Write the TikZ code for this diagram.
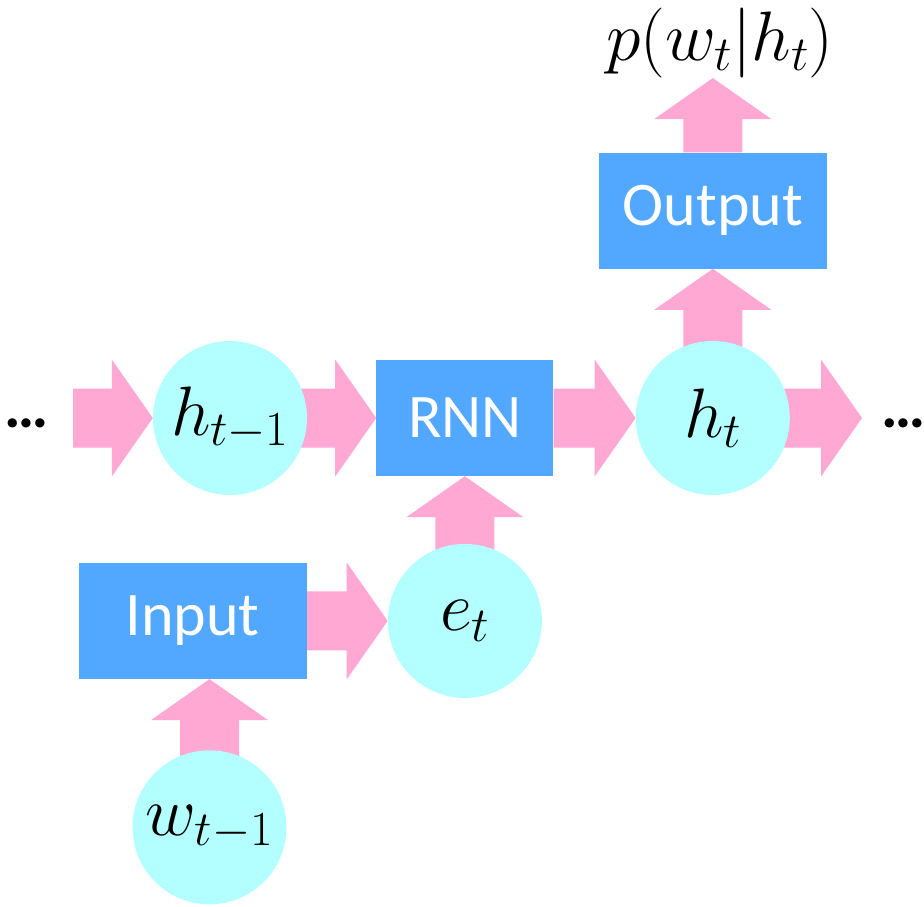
\RequirePackage{fix-cm}
\documentclass[tikz,border=0pt]{standalone}
\usepackage{fontspec}
\newfontfamily\boxfont{Carlito}
\usetikzlibrary{positioning, calc, backgrounds}

\definecolor{arrowpink}{RGB}{255,168,212}
\definecolor{boxblue}{RGB}{82,167,255}
\definecolor{statecyan}{RGB}{179,255,255}

\newcommand{\bigtext}{\fontsize{62}{70}\selectfont}
\newcommand{\bigmath}{\fontsize{70}{78}\selectfont}

\newcommand{\fatarrow}[2]{%
    \path ($(#2)!41pt!(#1)$) coordinate (hb);
    \fill[arrowpink] ($(#1)!29.5pt!90:(#2)$) -- ($(hb)!29.5pt!90:(#2)$) -- ($(hb)!58.5pt!90:(#2)$) -- (#2)
        -- ($(hb)!58.5pt!-90:(#2)$) -- ($(hb)!29.5pt!-90:(#2)$) -- ($(#1)!29.5pt!-90:(#2)$) -- cycle;
}

\begin{document}
\begin{tikzpicture}[
        x=1pt, y=-1pt,
        state/.style={circle, fill=statecyan, minimum size=154pt, inner sep=0pt, font=\bigmath},
        block/.style={rectangle, fill=boxblue, text=white, minimum width=228pt, minimum height=116pt, inner sep=0pt, font=\boxfont\bigtext}
    ]
    \useasboundingbox (0,0) rectangle (924,906);

    \node[state] (h1) at (230,418) {$h_{t-1}$};
    \node[block, minimum width=177pt, right=69pt of h1] (rnn) {RNN};
    \node[state, right=82pt of rnn] (ht) {$h_t$};
    \node[block, above=72pt of ht] (output) {Output};
    \node[state, below=67.5pt of rnn] (et) {$e_t$};
    \node[block, left=81pt of et] (input) {Input};
    \node[state, below=71pt of input, xshift=17pt] (w1) {$w_{t-1}$};

    \node[font=\bigmath, anchor=south, inner sep=0pt] (prob) at (720,78) {$p(w_t|h_t)$};
    \node[font=\boxfont\bigtext\bfseries, anchor=base, inner sep=0pt] (ldots) at (27,427) {\ldots};
    \node[font=\boxfont\bigtext\bfseries, anchor=base, inner sep=0pt] (rdots) at (904,427) {\ldots};
    \coordinate (lin) at (73,418);
    \coordinate (rout) at (862,418);

    \begin{scope}[on background layer]
        \fatarrow{lin}{h1.west}
        \fatarrow{h1.center}{rnn.west}
        \fatarrow{rnn.east}{ht.west}
        \fatarrow{ht.center}{rout}
        \fatarrow{ht.center}{output.south}
        \fatarrow{output.north}{output.north |- prob.south}
        \fatarrow{et.center}{rnn.south}
        \fatarrow{input.east}{et.west}
        \fatarrow{w1.center}{w1.center |- input.south}
    \end{scope}

\end{tikzpicture}
\end{document}
